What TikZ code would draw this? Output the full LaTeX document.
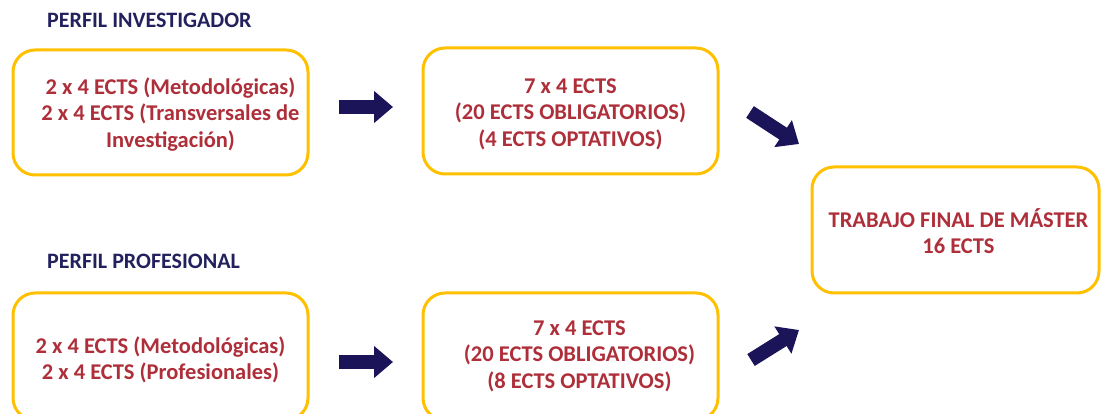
\documentclass[tikz,border=0pt]{standalone}
\usepackage{fontspec}
\setmainfont{Carlito}
\usetikzlibrary{arrows.meta}
\definecolor{navy}{HTML}{1C1458}
\definecolor{titlenavy}{HTML}{23205E}
\definecolor{boxgold}{HTML}{FFC000}
\definecolor{txtred}{HTML}{AE2F3A}
\tikzset{
  x=1pt, y=-1pt,
  box/.style={draw=boxgold, line width=3pt, rounded corners=22pt, fill=white},
  boxtext/.style={text=txtred, font=\fontsize{22.5}{26.5}\selectfont\bfseries, align=center, inner sep=0pt},
  title/.style={text=titlenavy, font=\fontsize{22}{24}\selectfont\bfseries, anchor=west, inner sep=0pt},
  blockarrow/.style={draw=navy, line width=14pt, -{Triangle[length=19pt,width=31pt]}}
}
\begin{document}
\begin{tikzpicture}
\useasboundingbox (0,0) rectangle (1101,414);
% titles
\node[title] (ti1) at (47,20) {PERFIL INVESTIGADOR};
\node[title] (ti2) at (47,261) {PERFIL PROFESIONAL};
% boxes
\draw[box] (13,50) rectangle (308,175);
\coordinate (b1) at (160.5,112.5);
\draw[box] (423,48) rectangle (718,174);
\coordinate (b2) at (570.5,111);
\draw[box] (812,167) rectangle (1099,293);
\coordinate (b3) at (955.5,230);
\draw[box] (13,293) rectangle (308,420);
\coordinate (b4) at (160.5,356);
\draw[box] (423,293) rectangle (718,420);
\coordinate (b5) at (570.5,356);
% texts
\node[boxtext] (t1) at ([xshift=10pt,yshift=-2pt]b1) {2 x 4 ECTS (Metodológicas)\\2 x 4 ECTS (Transversales de\\Investigación)};
\node[boxtext] (t2) at ([yshift=-3pt]b2) {7 x 4 ECTS\\(20 ECTS OBLIGATORIOS)\\(4 ECTS OPTATIVOS)};
\node[boxtext] (t3) at ([xshift=3pt,yshift=-1pt]b3) {TRABAJO FINAL DE MÁSTER\\16 ECTS};
\node[boxtext] (t4) at ([yshift=-4pt]b4) {2 x 4 ECTS (Metodológicas)\\2 x 4 ECTS (Profesionales)};
\node[boxtext] (t5) at ([xshift=9pt,yshift=0pt]b5) {7 x 4 ECTS\\(20 ECTS OBLIGATORIOS)\\(8 ECTS OPTATIVOS)};
% arrows
\coordinate (a1s) at (339,107);
\coordinate (a1e) at (393,107);
\coordinate (a2s) at (339,362);
\coordinate (a2e) at (393,362);
\coordinate (a3s) at (750,112);
\coordinate (a3e) at (799,144);
\coordinate (a4s) at (751,360);
\coordinate (a4e) at (799,330);
\draw[blockarrow] (a1s) -- (a1e);
\draw[blockarrow] (a2s) -- (a2e);
\draw[blockarrow] (a3s) -- (a3e);
\draw[blockarrow] (a4s) -- (a4e);
\end{tikzpicture}
\end{document}
